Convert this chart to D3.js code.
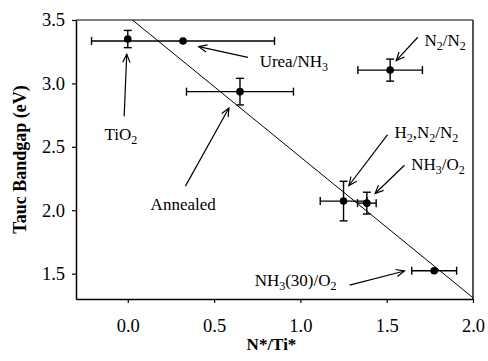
<!DOCTYPE html>
<html>
<head>
<meta charset="utf-8">
<script src="https://cdn.jsdelivr.net/npm/d3@7"></script>
<style>
  html, body { margin: 0; padding: 0; background: #fff; }
  svg text { font-family: "Liberation Serif", "Times New Roman", serif !important; fill: #000; }
</style>
</head>
<body>
<svg id="chart" width="488" height="361"></svg>
<script>
// Samples: N*/Ti* ratio vs Tauc bandgap, with error bars
const samples   = ["TiO2", "Urea/NH3", "Annealed", "N2/N2", "H2,N2/N2", "NH3/O2", "NH3(30)/O2"];
const ratio     = [0.00, 0.32, 0.65, 1.52, 1.25, 1.385, 1.775];
const ratioErr  = [0.00, 0.53, 0.31, 0.187, 0.135, 0.054, 0.13];
const bandgap   = [3.35, 3.335, 2.935, 3.105, 2.072, 2.056, 1.523];
const bandgapErr= [0.068, 0.00, 0.105, 0.087, 0.156, 0.086, 0.00];

// Linear trend: Eg = a + b * ratio
const trendA = 3.53, trendB = -1.11;

const xTicks = [0.0, 0.5, 1.0, 1.5, 2.0];
const yTicks = [1.5, 2.0, 2.5, 3.0, 3.5];

// Callouts: [label parts], text anchor point, arrow tail and head (data units)
const callouts = [
  { parts: [["Ti"], ["O"], ["2", true]], tx: -0.04, ty: 2.557, anchor: "middle", from: [-0.021, 2.74], to: [-0.006, 3.23] },
  { parts: [["Urea/NH"], ["3", true]], tx: 0.764, ty: 3.133, anchor: "start", from: [0.696, 3.205], to: [0.411, 3.29] },
  { parts: [["Annealed"]], tx: 0.321, ty: 2.0, anchor: "middle", from: [0.334, 2.19], to: [0.586, 2.806] },
  { parts: [["N"], ["2", true], ["/N"], ["2", true]], tx: 1.719, ty: 3.296, anchor: "start", from: [1.68, 3.364], to: [1.555, 3.18] },
  { parts: [["H"], ["2", true], [",N"], ["2", true], ["/N"], ["2", true]], tx: 1.545, ty: 2.57, anchor: "start", from: [1.505, 2.596], to: [1.281, 2.195] },
  { parts: [["NH"], ["3", true], ["/O"], ["2", true]], tx: 1.642, ty: 2.321, anchor: "start", from: [1.603, 2.355], to: [1.433, 2.132] },
  { parts: [["NH"], ["3", true], ["(30)/O"], ["2", true]], tx: 0.735, ty: 1.403, anchor: "start", from: [1.285, 1.409], to: [1.603, 1.521] }
];

const W = 488, H = 361;
const margin = { left: 76, right: 15, top: 20, bottom: 62 };
const svg = d3.select("#chart");

const x = d3.scaleLinear().domain([-0.3, 2.0]).range([margin.left, W - margin.right]);
const y = d3.scaleLinear().domain([1.3, 3.5]).range([H - margin.bottom, margin.top]);

const x0 = x.range()[0], x1 = x.range()[1], y0 = y.range()[0], y1 = y.range()[1];

// Frame: top and right edges
svg.append("line").attr("x1", x0).attr("x2", x1).attr("y1", y1).attr("y2", y1)
  .attr("stroke", "#000").attr("stroke-width", 1.2);
svg.append("line").attr("x1", x1).attr("x2", x1).attr("y1", y1).attr("y2", y0)
  .attr("stroke", "#555").attr("stroke-width", 2);

// Axes
const xAxis = svg.append("g").attr("transform", `translate(0,${y0})`)
  .call(d3.axisBottom(x).tickValues(xTicks).tickFormat(d3.format(".1f")).tickSize(4).tickSizeOuter(0));
const yAxis = svg.append("g").attr("transform", `translate(${x0},0)`)
  .call(d3.axisLeft(y).tickValues(yTicks).tickFormat(d3.format(".1f")).tickSize(4).tickSizeOuter(0));

[xAxis, yAxis].forEach(g => {
  g.attr("font-family", null).attr("font-size", null);
  g.select(".domain").attr("stroke", "#000").attr("stroke-width", 1.5);
  g.selectAll(".tick line").attr("stroke", "#000").attr("stroke-width", 1.2);
  g.selectAll(".tick text").style("font-family", "'Liberation Serif', serif").style("font-size", "18.5px").attr("fill", "#000");
});
xAxis.selectAll(".tick text").attr("dy", 0).attr("y", 33);
yAxis.selectAll(".tick text").attr("x", -11).attr("dy", "0.32em");

// Axis titles
svg.append("text").attr("x", (x0 + x1) / 2 - 3).attr("y", 350)
  .attr("text-anchor", "middle").attr("font-weight", "bold").attr("font-size", 17)
  .text("N*/Ti*");
svg.append("text").attr("transform", `translate(26,${(y0 + y1) / 2}) rotate(-90)`)
  .attr("text-anchor", "middle").attr("font-weight", "bold").attr("font-size", 18)
  .text("Tauc Bandgap (eV)");

// Trend line clipped to the plot area
svg.append("clipPath").attr("id", "plotClip").append("rect")
  .attr("x", x0).attr("y", y1).attr("width", x1 - x0).attr("height", y0 - y1);
const xs = [-0.3, 2.0];
svg.append("line").attr("clip-path", "url(#plotClip)")
  .attr("x1", x(xs[0])).attr("y1", y(trendA + trendB * xs[0]))
  .attr("x2", x(xs[1])).attr("y2", y(trendA + trendB * xs[1]))
  .attr("stroke", "#000").attr("stroke-width", 1);

// Error bars and points
const pts = samples.map((s, i) => ({ s, x: ratio[i], ex: ratioErr[i], y: bandgap[i], ey: bandgapErr[i] }));
const cap = 4;
const eb = svg.append("g").attr("stroke", "#000").attr("stroke-width", 1.4);
pts.forEach(p => {
  if (p.ex > 0) {
    eb.append("line").attr("x1", x(p.x - p.ex)).attr("x2", x(p.x + p.ex)).attr("y1", y(p.y)).attr("y2", y(p.y));
    [p.x - p.ex, p.x + p.ex].forEach(v =>
      eb.append("line").attr("x1", x(v)).attr("x2", x(v)).attr("y1", y(p.y) - cap).attr("y2", y(p.y) + cap));
  }
  if (p.ey > 0) {
    eb.append("line").attr("x1", x(p.x)).attr("x2", x(p.x)).attr("y1", y(p.y - p.ey)).attr("y2", y(p.y + p.ey));
    [p.y - p.ey, p.y + p.ey].forEach(v =>
      eb.append("line").attr("x1", x(p.x) - cap).attr("x2", x(p.x) + cap).attr("y1", y(v)).attr("y2", y(v)));
  }
});
svg.append("g").selectAll("circle").data(pts).join("circle")
  .attr("cx", d => x(d.x)).attr("cy", d => y(d.y)).attr("r", 3.8).attr("fill", "#000");

// Callout labels with open arrowheads
const cg = svg.append("g");
callouts.forEach(c => {
  const t = cg.append("text").attr("x", x(c.tx)).attr("y", y(c.ty))
    .attr("text-anchor", c.anchor).attr("font-size", 17);
  let shifted = false;
  c.parts.forEach(([str, sub]) => {
    const ts = t.append("tspan").text(str);
    if (sub && !shifted) { ts.attr("font-size", 12).attr("dy", 4); shifted = true; }
    else if (sub) { ts.attr("font-size", 12); }
    else if (shifted) { ts.attr("dy", -4); shifted = false; }
  });
  const ax = x(c.from[0]), ay = y(c.from[1]), bx = x(c.to[0]), by = y(c.to[1]);
  cg.append("line").attr("x1", ax).attr("y1", ay).attr("x2", bx).attr("y2", by)
    .attr("stroke", "#000").attr("stroke-width", 1.2);
  const ang = Math.atan2(by - ay, bx - ax), L = 9, spread = 0.42;
  const head = d3.path();
  head.moveTo(bx - L * Math.cos(ang - spread), by - L * Math.sin(ang - spread));
  head.lineTo(bx, by);
  head.lineTo(bx - L * Math.cos(ang + spread), by - L * Math.sin(ang + spread));
  cg.append("path").attr("d", head.toString()).attr("fill", "none")
    .attr("stroke", "#000").attr("stroke-width", 1.2);
});
</script>
</body>
</html>
